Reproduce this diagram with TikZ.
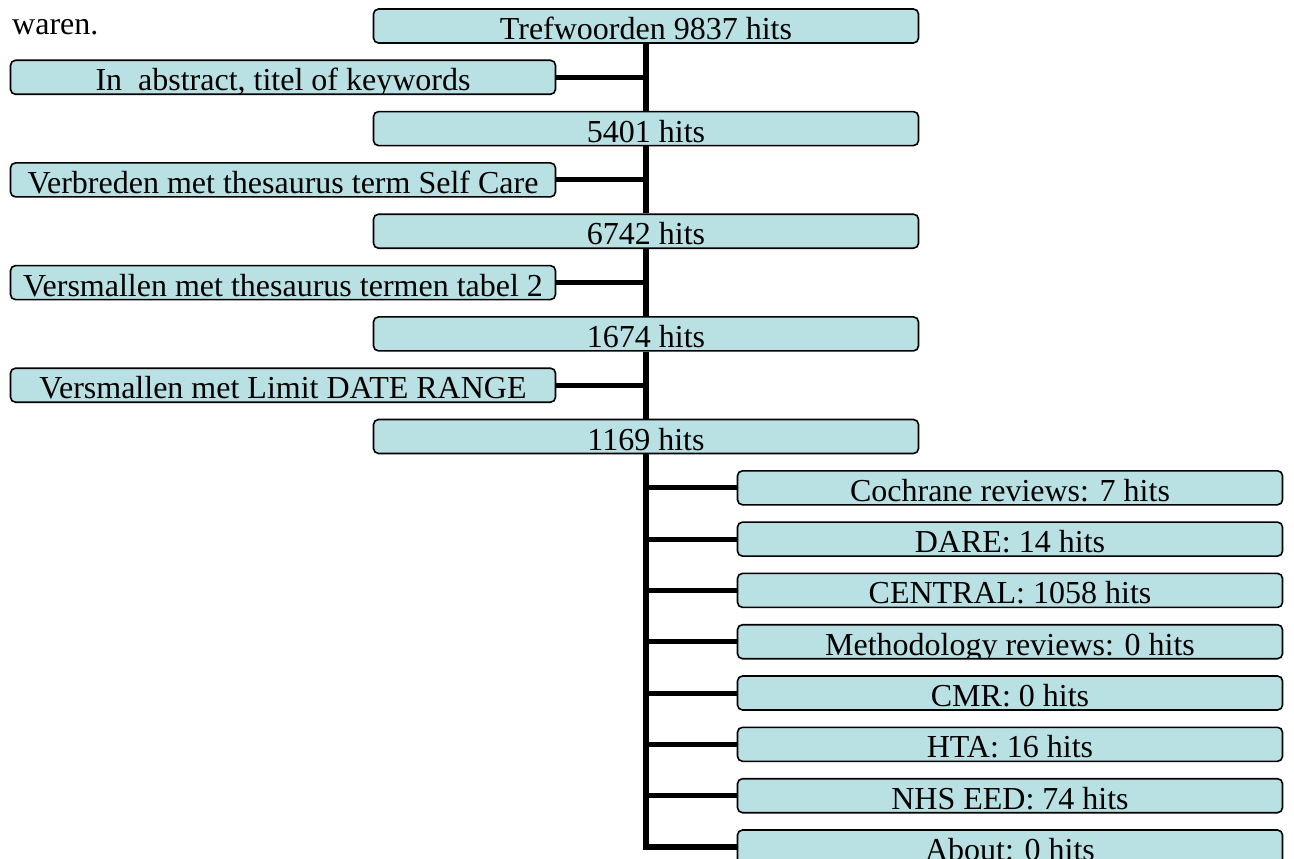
\documentclass[tikz,border=0pt]{standalone}
\usepackage{fontspec}
\setmainfont{Liberation Serif}
\usepackage{tikz}
\definecolor{boxblue}{RGB}{185,224,227}

\begin{document}
\begin{tikzpicture}[x=1pt,y=-1pt,font=\fontsize{32}{36}\selectfont,
        hitbox/.style={draw=black, line width=1.6pt, rounded corners=5pt, fill=boxblue,
            minimum width=545pt, minimum height=34pt, inner sep=0pt,
            path picture={\node[anchor=base, inner sep=0pt] at ([yshift=3.5pt]path picture bounding box.south) {#1};}},
        trunk/.style={line width=6pt},
        branch/.style={line width=5pt}]
        \useasboundingbox (0,0) rectangle (1294,859);
        \node[anchor=base west, inner sep=0pt] (waren) at (12,35) {waren.};
        % main column
        \node[hitbox={Trefwoorden 9837 hits}] (tref) at (646,26) {};
        \node[hitbox={5401 hits}] (h5401) at (646,128.6) {};
        \node[hitbox={6742 hits}] (h6742) at (646,231.2) {};
        \node[hitbox={1674 hits}] (h1674) at (646,333.9) {};
        \node[hitbox={1169 hits}] (h1169) at (646,436.5) {};
        % steps on the left
        \node[hitbox={In\ \ abstract, titel of keywords}] (abstr) at (283,77.3) {};
        \node[hitbox={Verbreden met thesaurus term Self Care}] (verbr) at (283,179.9) {};
        \node[hitbox={Versmallen met thesaurus termen tabel 2}] (versm) at (283,282.6) {};
        \node[hitbox={Versmallen met Limit DATE RANGE}] (limit) at (283,385.2) {};
        % databases on the right
        \node[hitbox={Cochrane reviews: 7 hits}] (cochrane) at (1010,487.8) {};
        \node[hitbox={DARE: 14 hits}] (dare) at (1010,539.1) {};
        \node[hitbox={CENTRAL: 1058 hits}] (central) at (1010,590.4) {};
        \node[hitbox={Methodology reviews: 0 hits}] (method) at (1010,641.7) {};
        \node[hitbox={CMR: 0 hits}] (cmr) at (1010,693) {};
        \node[hitbox={HTA: 16 hits}] (hta) at (1010,744.3) {};
        \node[hitbox={NHS EED: 74 hits}] (nhs) at (1010,795.7) {};
        \node[hitbox={About: 0 hits}] (about) at (1010,847) {};
        % connectors
        \draw[trunk] (tref) -- (h5401) -- (h6742) -- (h1674) -- (h1169);
        \draw[trunk] (h1169) |- (about);
        \draw[branch] (abstr) -- (abstr -| tref);
        \draw[branch] (verbr) -- (verbr -| tref);
        \draw[branch] (versm) -- (versm -| tref);
        \draw[branch] (limit) -- (limit -| tref);
        \draw[branch] (cochrane -| h1169) -- (cochrane);
        \draw[branch] (dare -| h1169) -- (dare);
        \draw[branch] (central -| h1169) -- (central);
        \draw[branch] (method -| h1169) -- (method);
        \draw[branch] (cmr -| h1169) -- (cmr);
        \draw[branch] (hta -| h1169) -- (hta);
        \draw[branch] (nhs -| h1169) -- (nhs);
\end{tikzpicture}
\end{document}
